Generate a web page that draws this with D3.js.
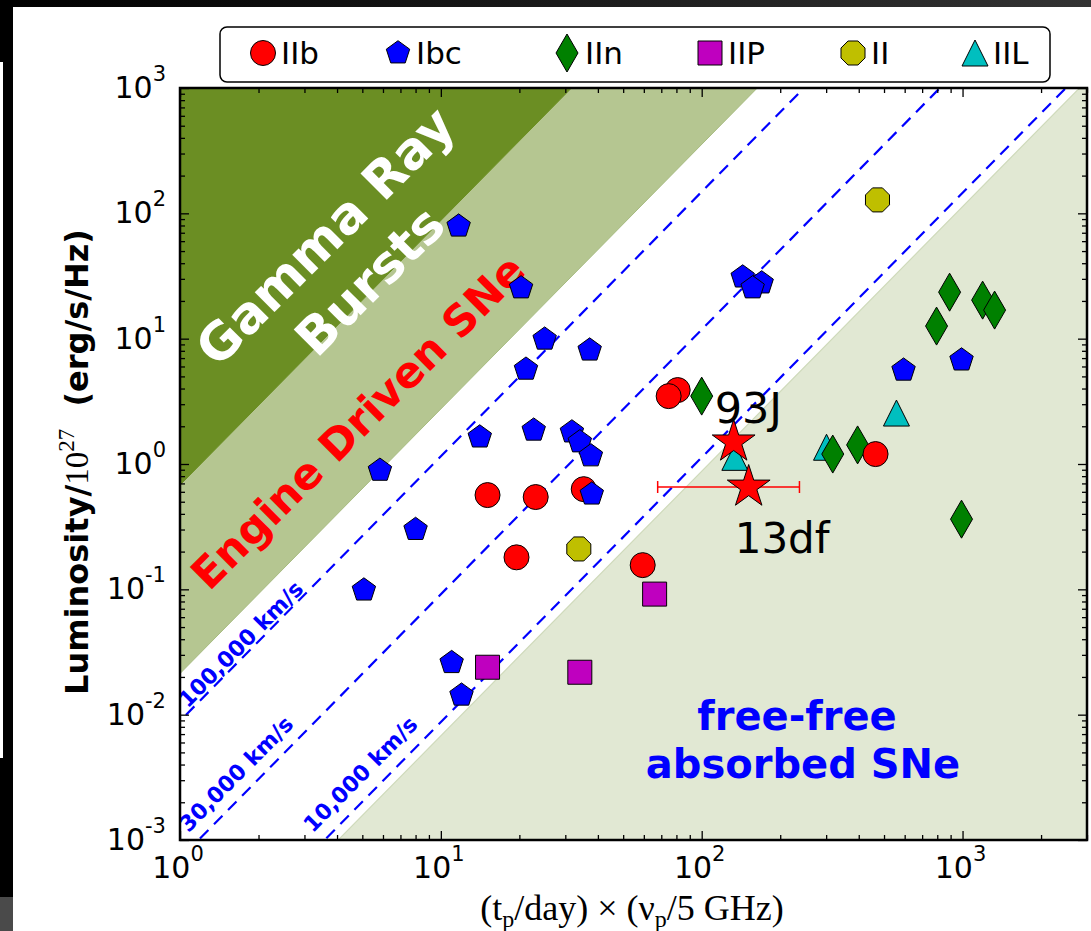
<!DOCTYPE html>
<html><head><meta charset="utf-8">
<script src="https://cdn.jsdelivr.net/npm/d3@7"></script>
<style>body{margin:0;background:#fff}svg{display:block}</style>
</head><body>
<svg id="c" width="1091" height="931"></svg>
<script>
// ---------- DATA ----------
const typeNames = ["IIb", "Ibc", "IIn", "IIP", "II", "IIL"];
// IIb (red circles)
const iibX = [15.1, 23.1, 35.3, 19.5, 59.4, 80.9, 74.7, 464];
const iibY = [0.565, 0.545, 0.63, 0.18, 0.156, 3.89, 3.48, 1.2];
// Ibc (blue pentagons)
const ibcX = [11.7, 20.3, 25.0, 37.2, 21.2, 14.1, 22.7, 31.8, 34.1, 37.6, 37.9, 5.84, 8.0, 5.07, 11.0, 12.0, 169.8, 143.6, 156.8, 594, 991];
const ibcY = [79, 25.4, 9.9, 8.1, 5.7, 1.64, 1.86, 1.8, 1.5, 1.16, 0.575, 0.89, 0.30, 0.0986, 0.026, 0.0143, 27.8, 31, 25.4, 5.6, 6.75];
// IIn (green thin diamonds)
const iinX = [100, 318, 396, 795, 892, 1194, 1327, 991];
const iinY = [3.48, 1.2, 1.42, 12.6, 23.5, 20.3, 16.9, 0.363];
// IIP (magenta squares)
const iipX = [66, 15.1, 34.1];
const iipY = [0.0916, 0.0239, 0.0218];
// II (yellow octagons)
const iiX = [472, 33.8];
const iiY = [128, 0.21];
// IIL (cyan triangles)
const iilX = [558, 301, 134];
const iilY = [2.55, 1.36, 1.13];
// Highlighted SNe (red stars)
const starNames = ["93J", "13df"];
const starX = [132.6, 151.4];
const starY = [1.5, 0.655];
const errLow = [null, 67.8];
const errHigh = [null, 237];
// Model lines L = A * x^(19/9); A given as log10 L at x = 1
const lineSlope = 19 / 9;
const velocityLabels = ["100,000 km/s", "30,000 km/s", "10,000 km/s"];
const velocityLogA = [-2.05, -3.15, -4.17];
const regionNames = ["Gamma Ray Bursts", "Engine Driven SNe", "free-free absorbed SNe"];
const grbLogA = -0.168;
const engineLogA = -1.672;
const ffLogA = -4.28;
const xTickExps = [0, 1, 2, 3];
const yTickExps = [-3, -2, -1, 0, 1, 2, 3];

// ---------- SETUP ----------
const svg = d3.select("#c");
const L = 180, R = 1087, T = 88, B = 840;
const x = d3.scaleLog().domain([1, 3000]).range([L, R]);
const y = d3.scaleLog().domain([1e-3, 1e3]).range([B, T]);
const lineL = (logA, xv) => Math.pow(10, logA) * Math.pow(xv, lineSlope);

// screen frame (black borders of the screenshot)
const defs = svg.append("defs");
const g0 = defs.append("linearGradient").attr("id", "topg").attr("x1", 0).attr("x2", 1);
g0.append("stop").attr("offset", 0).attr("stop-color", "#000");
g0.append("stop").attr("offset", 1).attr("stop-color", "#333");
svg.append("rect").attr("x", 0).attr("y", 0).attr("width", 1091).attr("height", 7).attr("fill", "url(#topg)");
svg.append("rect").attr("x", 3).attr("y", 0).attr("width", 10).attr("height", 931).attr("fill", "#000");
svg.append("rect").attr("x", 0).attr("y", 0).attr("width", 3).attr("height", 62).attr("fill", "#000");
svg.append("rect").attr("x", 0).attr("y", 758).attr("width", 3).attr("height", 173).attr("fill", "#000");
svg.append("rect").attr("x", 0).attr("y", 897).attr("width", 13).attr("height", 34).attr("fill", "#4a4a4a");

defs.append("clipPath").attr("id", "plotclip").append("rect")
  .attr("x", L).attr("y", T).attr("width", R - L).attr("height", B - T);

const plot = svg.append("g").attr("clip-path", "url(#plotclip)");
const xa = 0.1, xb = 1e5;
const pt = (xv, lv) => [x(xv), y(lv)];

function upperPoly(logA) {
  return [pt(xa, lineL(logA, xa)), pt(xb, lineL(logA, xb)), pt(xa, lineL(logA, xb))];
}
function lowerPoly(logA) {
  return [pt(xa, lineL(logA, xa)), pt(xb, lineL(logA, xb)), pt(xb, lineL(logA, xa))];
}
const polyLine = d3.line();
plot.append("path").attr("d", polyLine(upperPoly(engineLogA)) + "Z").attr("fill", "#b5c691").attr("stroke", "#a7bb80").attr("stroke-width", 1);
plot.append("path").attr("d", polyLine(upperPoly(grbLogA)) + "Z").attr("fill", "#6b8e23").attr("stroke", "#6b8e23");
plot.append("path").attr("d", polyLine(lowerPoly(ffLogA)) + "Z").attr("fill", "#e1e8d3").attr("stroke", "#cfdabb").attr("stroke-width", 1.2);

// velocity lines
velocityLogA.forEach(a => {
  plot.append("path").attr("d", polyLine([pt(xa, lineL(a, xa)), pt(xb, lineL(a, xb))]))
    .attr("stroke", "#0000ff").attr("stroke-width", 2.2).attr("fill", "none")
    .attr("stroke-dasharray", "12,8");
});
const pixAngle = Math.atan2(y(lineL(0, 1000)) - y(lineL(0, 1)), x(1000) - x(1)) * 180 / Math.PI;
const labStartPx = [190, 197, 322];
const labOff = [3, 12, 13];
velocityLabels.forEach((t, i) => {
  const xv = x.invert(labStartPx[i]);
  const px = labStartPx[i], py = y(lineL(velocityLogA[i], xv));
  plot.append("text").attr("transform", `translate(${px},${py}) rotate(${pixAngle}) translate(0,${-labOff[i]})`)
    .attr("font-family", "DejaVu Sans").attr("font-weight", "bold").attr("font-size", 22)
    .attr("fill", "#0000ff").text(t);
});

// region labels
const grbG = plot.append("g").attr("transform", `translate(347,258) rotate(-45)`);
grbG.append("text").attr("x", 0).attr("y", -13).attr("text-anchor", "middle")
  .attr("font-family", "DejaVu Sans").attr("font-weight", "bold").attr("font-size", 51).attr("fill", "#fff").text("Gamma Ray");
grbG.append("text").attr("x", 0).attr("y", 50).attr("text-anchor", "middle")
  .attr("font-family", "DejaVu Sans").attr("font-weight", "bold").attr("font-size", 51).attr("fill", "#fff").text("Bursts");
plot.append("text").attr("transform", `translate(358,422) rotate(-45)`).attr("y", 15).attr("text-anchor", "middle")
  .attr("font-family", "DejaVu Sans").attr("font-weight", "bold").attr("font-size", 43).attr("fill", "#ff0000").text("Engine Driven SNe");
plot.append("text").attr("x", 797).attr("y", 730).attr("text-anchor", "middle")
  .attr("font-family", "DejaVu Sans").attr("font-weight", "bold").attr("font-size", 40).attr("fill", "#0000ff").text("free-free");
plot.append("text").attr("x", 803).attr("y", 778).attr("text-anchor", "middle")
  .attr("font-family", "DejaVu Sans").attr("font-weight", "bold").attr("font-size", 40).attr("fill", "#0000ff").text("absorbed SNe");

// ---------- MARKERS ----------
function poly(n, r, start) {
  const p = [];
  for (let k = 0; k < n; k++) {
    const a = (start + k * 360 / n) * Math.PI / 180;
    p.push([r * Math.cos(a), r * Math.sin(a)]);
  }
  return "M" + p.map(q => q[0].toFixed(2) + "," + q[1].toFixed(2)).join("L") + "Z";
}
const shapes = {
  IIb: () => "M12.5,0A12.5,12.5 0 1 1 -12.5,0A12.5,12.5 0 1 1 12.5,0Z",
  Ibc: () => poly(5, 12.3, -90),
  IIn: () => "M0,-19L11,0L0,19L-11,0Z",
  IIP: () => "M-12,-12L12,-12L12,12L-12,12Z",
  II: () => poly(8, 13, 22.5),
  IIL: () => "M0,-13L13,13L-13,13Z",
  star: () => {
    const p = [];
    for (let k = 0; k < 10; k++) {
      const r = k % 2 === 0 ? 22.5 : 22.5 * 0.382;
      const a = (-90 + k * 36) * Math.PI / 180;
      p.push([r * Math.cos(a), r * Math.sin(a)]);
    }
    return "M" + p.map(q => q[0].toFixed(2) + "," + q[1].toFixed(2)).join("L") + "Z";
  }
};
const colors = { IIb: "#ff0000", Ibc: "#0000ff", IIn: "#008000", IIP: "#bf00bf", II: "#bfbf00", IIL: "#00bfbf" };
const series = { IIb: [iibX, iibY], Ibc: [ibcX, ibcY], IIn: [iinX, iinY], IIP: [iipX, iipY], II: [iiX, iiY], IIL: [iilX, iilY] };
const drawOrder = ["IIL", "IIn", "IIb", "Ibc", "IIP", "II"];
const mk = svg.append("g");
drawOrder.forEach(t => {
  const [xs, ys] = series[t];
  const d = xs.map((v, i) => ({ x: v, y: ys[i] }));
  mk.selectAll(null).data(d).enter().append("path")
    .attr("transform", p => `translate(${x(p.x)},${y(p.y)})`)
    .attr("d", shapes[t]()).attr("fill", colors[t]).attr("stroke", "#000").attr("stroke-width", 1);
});
// error bar + stars
starX.forEach((v, i) => {
  if (errLow[i] != null) {
    const yy = y(starY[i]);
    mk.append("line").attr("x1", x(errLow[i])).attr("x2", x(errHigh[i])).attr("y1", yy).attr("y2", yy).attr("stroke", "#ff0000").attr("stroke-width", 1.5);
    [errLow[i], errHigh[i]].forEach(e => mk.append("line").attr("x1", x(e)).attr("x2", x(e)).attr("y1", yy - 6).attr("y2", yy + 6).attr("stroke", "#ff0000").attr("stroke-width", 1.5));
  }
});
starX.forEach((v, i) => {
  mk.append("path").attr("transform", `translate(${x(v)},${y(starY[i])})`).attr("d", shapes.star())
    .attr("fill", "#ff0000").attr("stroke", "#000").attr("stroke-width", 1);
});
svg.append("text").attr("x", x(starX[0]) - 19).attr("y", y(starY[0]) - 19)
  .attr("font-family", "DejaVu Sans").attr("font-size", 43).attr("fill", "#000").text(starNames[0]);
svg.append("text").attr("x", x(starX[1]) - 14).attr("y", y(starY[1]) + 66)
  .attr("font-family", "DejaVu Sans").attr("font-size", 42).attr("fill", "#000").text(starNames[1]);

// ---------- AXES ----------
const xMaj = xTickExps.map(e => Math.pow(10, e));
const yMaj = yTickExps.map(e => Math.pow(10, e));
const xMin = [], yMin = [];
xTickExps.forEach(e => { for (let k = 2; k <= 9; k++) { const v = k * Math.pow(10, e); if (v <= 3000) xMin.push(v); } });
yTickExps.slice(0, -1).forEach(e => { for (let k = 2; k <= 9; k++) yMin.push(k * Math.pow(10, e)); });
function addAxis(gen, tr, vals, size) {
  const g = svg.append("g").attr("transform", tr).call(gen.tickValues(vals).tickSize(size).tickFormat(""));
  g.select(".domain").remove();
  g.selectAll("line").attr("stroke", "#000").attr("stroke-width", 1.3);
}
addAxis(d3.axisBottom(x), `translate(0,${B})`, xMaj, -9);
addAxis(d3.axisBottom(x), `translate(0,${B})`, xMin, -5);
addAxis(d3.axisTop(x), `translate(0,${T})`, xMaj, -9);
addAxis(d3.axisTop(x), `translate(0,${T})`, xMin, -5);
addAxis(d3.axisLeft(y), `translate(${L},0)`, yMaj, -9);
addAxis(d3.axisLeft(y), `translate(${L},0)`, yMin, -5);
addAxis(d3.axisRight(y), `translate(${R},0)`, yMaj, -9);
addAxis(d3.axisRight(y), `translate(${R},0)`, yMin, -5);
svg.append("rect").attr("x", L).attr("y", T).attr("width", R - L).attr("height", B - T)
  .attr("fill", "none").attr("stroke", "#000").attr("stroke-width", 2.5);

// tick labels
xTickExps.forEach(e => {
  const t = svg.append("text").attr("x", x(Math.pow(10, e)) - 2).attr("y", B + 38).attr("text-anchor", "middle")
    .attr("font-family", "DejaVu Sans").attr("font-size", 30).attr("fill", "#000");
  t.append("tspan").text("10");
  t.append("tspan").attr("dy", -17).attr("font-size", 21).text(String(e));
});
yTickExps.forEach(e => {
  const t = svg.append("text").attr("x", 166).attr("y", y(Math.pow(10, e)) + 10).attr("text-anchor", "end")
    .attr("font-family", "DejaVu Sans").attr("font-size", 30).attr("fill", "#000");
  t.append("tspan").text("10");
  t.append("tspan").attr("dy", -17).attr("font-size", 21).text(e < 0 ? "-" + (-e) : String(e));
});

// axis titles
const xl = svg.append("text").attr("x", 632).attr("y", 920).attr("text-anchor", "middle")
  .attr("font-family", "Liberation Serif").attr("font-size", 36).attr("fill", "#000");
xl.append("tspan").text("(t");
xl.append("tspan").attr("dy", 7).attr("font-size", 24).text("p");
xl.append("tspan").attr("dy", -7).text("/day) × (ν");
xl.append("tspan").attr("dy", 7).attr("font-size", 24).text("p");
xl.append("tspan").attr("dy", -7).text("/5 GHz)");

const yl = svg.append("text").attr("transform", "translate(88,462) rotate(-90)").attr("text-anchor", "middle")
  .attr("font-size", 32).attr("fill", "#000");
yl.append("tspan").attr("font-family", "DejaVu Sans").attr("font-weight", "bold").text("Luminosity/");
yl.append("tspan").attr("font-family", "Liberation Serif").attr("font-size", 33).text("10");
yl.append("tspan").attr("font-family", "Liberation Serif").attr("font-size", 23).attr("dy", -14).text("27");
yl.append("tspan").attr("font-family", "DejaVu Sans").attr("font-weight", "bold").attr("dy", 14).text("\u00a0 (erg/s/Hz)");

// ---------- LEGEND ----------
const lg = svg.append("g");
lg.append("rect").attr("x", 220).attr("y", 27).attr("width", 830).attr("height", 55).attr("rx", 7)
  .attr("fill", "#fff").attr("stroke", "#000").attr("stroke-width", 1.5);
const legX = [263, 398, 567, 710, 853, 975];
typeNames.forEach((t, i) => {
  lg.append("path").attr("transform", `translate(${legX[i]},53)`).attr("d", shapes[t]())
    .attr("fill", colors[t]).attr("stroke", "#000").attr("stroke-width", 1);
  lg.append("text").attr("x", legX[i] + 18).attr("y", 64).attr("font-family", "DejaVu Sans")
    .attr("font-size", 31).attr("fill", "#000").text(t);
});
</script>
</body></html>
